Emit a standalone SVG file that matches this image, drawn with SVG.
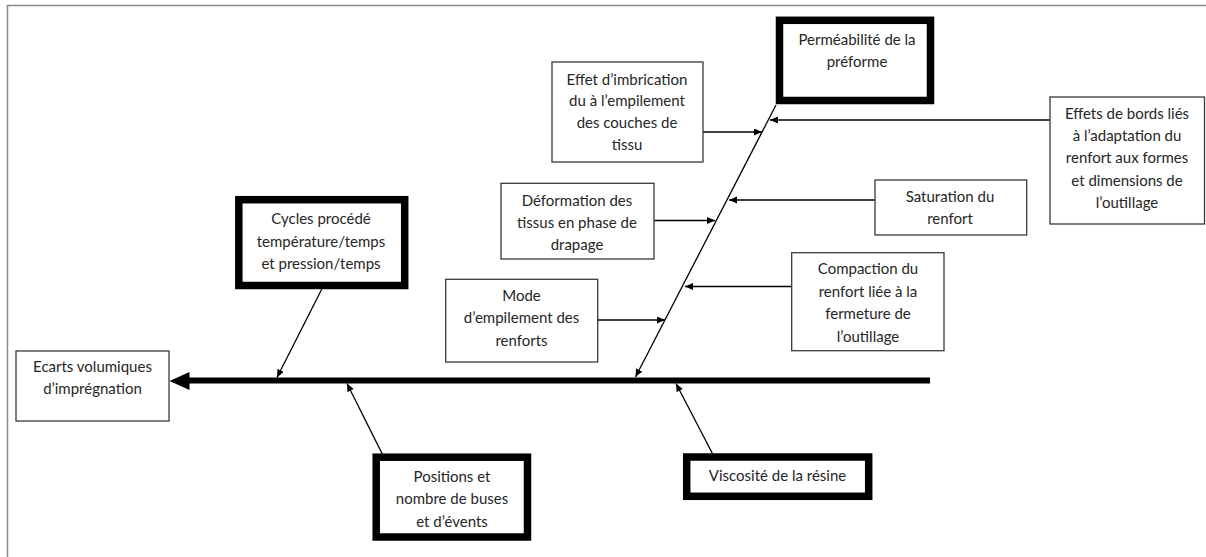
<svg xmlns="http://www.w3.org/2000/svg" width="1206" height="557" viewBox="0 0 1206 557">
<defs>
<marker id="ah" markerUnits="userSpaceOnUse" markerWidth="9" markerHeight="8" refX="8" refY="3.5" orient="auto">
<path d="M0,0 L8,3.5 L0,7 z" fill="#000"/>
</marker>
<style>
.thin{fill:#fff;stroke:#3a3a3a;stroke-width:1.3}
.thick{fill:#fff;stroke:#000;stroke-width:7.5}
.lbl{font-family:Lato,"Liberation Sans",sans-serif;font-size:15px;fill:#262626;text-anchor:middle}
.con{stroke:#000;stroke-width:1.3;fill:none;marker-end:url(#ah)}
</style>
</defs>
<rect width="1206" height="557" fill="#fff"/>
<path d="M7.5,557 V5.5 H1206" fill="none" stroke="#8a8a8a" stroke-width="1.5"/>

<g id="connectors">
<line x1="930" y1="380.5" x2="187" y2="380.5" stroke="#000" stroke-width="6"/>
<polygon points="169.5,381 189.5,372 189.5,390" fill="#000"/>
<line class="con" x1="776" y1="105" x2="635.5" y2="377"/>
<line class="con" x1="703" y1="132" x2="762" y2="132"/>
<line class="con" x1="654" y1="220.5" x2="715" y2="220.5"/>
<line class="con" x1="598" y1="320" x2="665" y2="320"/>
<line class="con" x1="1050" y1="120" x2="770" y2="120"/>
<line class="con" x1="875" y1="200" x2="729" y2="200"/>
<line class="con" x1="792" y1="286.5" x2="685" y2="286.5"/>
<line class="con" x1="321.7" y1="289.3" x2="277" y2="377.5"/>
<line class="con" x1="382.3" y1="454" x2="347" y2="383.5"/>
<line class="con" x1="712.3" y1="453.3" x2="676" y2="383.5"/>
</g>

<g id="n-ecarts">
<rect class="thin" x="16" y="351" width="153" height="70"/>
<text class="lbl" x="92.5" y="372">Ecarts volumiques</text>
<text class="lbl" x="92.5" y="394">d’imprégnation</text>
</g>
<g id="n-cycles">
<rect class="thick" x="238.8" y="199.7" width="165.9" height="85.8"/>
<text class="lbl" x="321" y="224">Cycles procédé</text>
<text class="lbl" x="321" y="246.5">température/temps</text>
<text class="lbl" x="321" y="269">et pression/temps</text>
</g>
<g id="n-permeabilite">
<rect class="thick" x="779.5" y="20.3" width="151" height="80.2"/>
<text class="lbl" x="857" y="44.5">Perméabilité de la</text>
<text class="lbl" x="857" y="66.7">préforme</text>
</g>
<g id="n-imbrication">
<rect class="thin" x="552" y="62" width="151" height="100"/>
<text class="lbl" x="627" y="84.5">Effet d’imbrication</text>
<text class="lbl" x="627" y="106">du à l’empilement</text>
<text class="lbl" x="627" y="127.5">des couches de</text>
<text class="lbl" x="627" y="149.5">tissu</text>
</g>
<g id="n-bords">
<rect class="thin" x="1050" y="97" width="154.5" height="127"/>
<text class="lbl" x="1127" y="119">Effets de bords liés</text>
<text class="lbl" x="1127" y="141.2">à l’adaptation du</text>
<text class="lbl" x="1127" y="163.4">renfort aux formes</text>
<text class="lbl" x="1127" y="185.6">et dimensions de</text>
<text class="lbl" x="1127" y="207.8">l’outillage</text>
</g>
<g id="n-deformation">
<rect class="thin" x="501" y="183.3" width="153" height="75.7"/>
<text class="lbl" x="577" y="206">Déformation des</text>
<text class="lbl" x="577" y="228">tissus en phase de</text>
<text class="lbl" x="577" y="250">drapage</text>
</g>
<g id="n-saturation">
<rect class="thin" x="875" y="180" width="151.7" height="55"/>
<text class="lbl" x="950" y="202">Saturation du</text>
<text class="lbl" x="950" y="223.5">renfort</text>
</g>
<g id="n-mode">
<rect class="thin" x="445.7" y="279.3" width="152" height="82.7"/>
<text class="lbl" x="521.5" y="301">Mode</text>
<text class="lbl" x="521.5" y="323.3">d’empilement des</text>
<text class="lbl" x="521.5" y="345.7">renforts</text>
</g>
<g id="n-compaction">
<rect class="thin" x="791.7" y="252.7" width="152.3" height="98"/>
<text class="lbl" x="868" y="274">Compaction du</text>
<text class="lbl" x="868" y="296.7">renfort liée à la</text>
<text class="lbl" x="868" y="319">fermeture de</text>
<text class="lbl" x="868" y="341.7">l’outillage</text>
</g>
<g id="n-positions">
<rect class="thick" x="376.2" y="457.2" width="151.3" height="79.8"/>
<text class="lbl" x="452" y="482">Positions et</text>
<text class="lbl" x="452" y="504">nombre de buses</text>
<text class="lbl" x="452" y="526.7">et d’évents</text>
</g>
<g id="n-viscosite">
<rect class="thick" x="686.7" y="457" width="182" height="39.3"/>
<text class="lbl" x="777.5" y="481">Viscosité de la résine</text>
</g>
</svg>
